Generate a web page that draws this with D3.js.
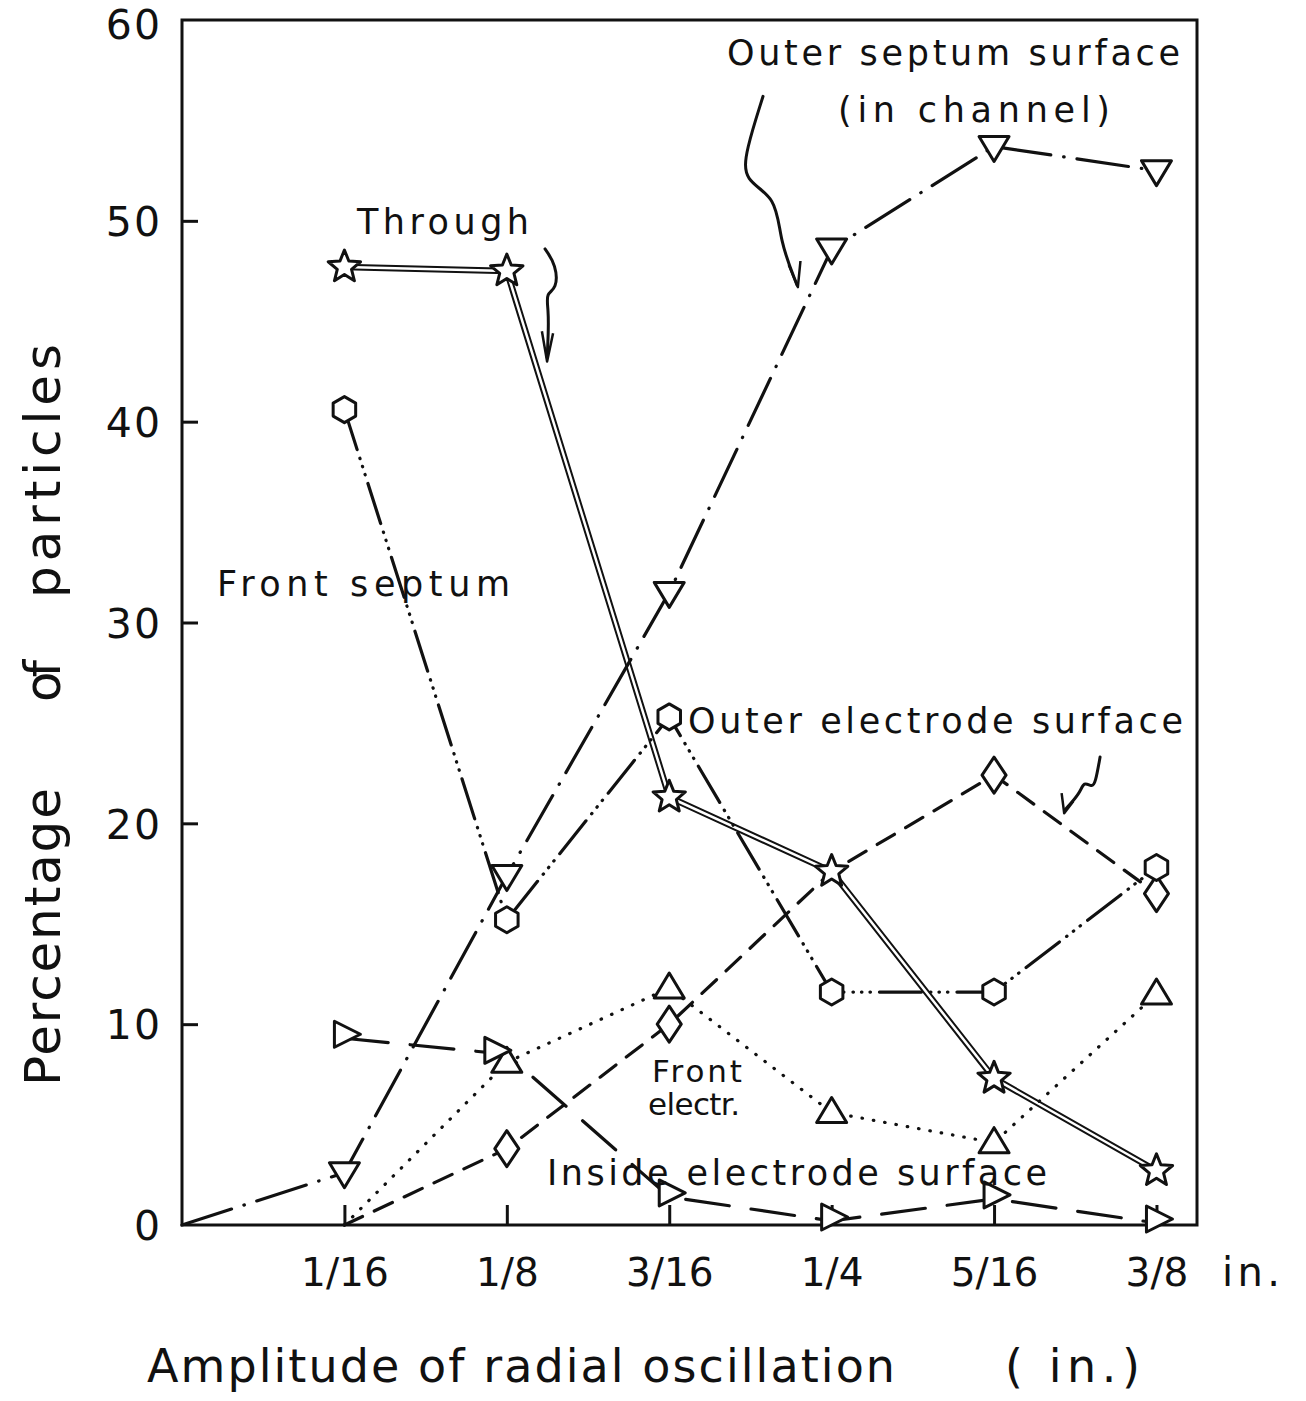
<!DOCTYPE html>
<html>
<head>
<meta charset="utf-8">
<script src="https://cdn.jsdelivr.net/npm/d3@7"></script>
<style>
  html, body { margin: 0; padding: 0; background: #fff; }
  svg text { font-family: "DejaVu Sans", sans-serif; fill: #111; }
</style>
</head>
<body>
<svg id="chart" width="1306" height="1401"></svg>
<script>
// Amplitude of radial oscillation, in inches
const amplitudes = [1/16, 1/8, 3/16, 1/4, 5/16, 3/8];
const tickLabels = ["1/16", "1/8", "3/16", "1/4", "5/16", "3/8"];
const yTicks = [0, 10, 20, 30, 40, 50, 60];

// Percentage of particles per fate
const through          = [47.7, 47.5, 21.3, 17.6, 7.3, 2.7];
const outerSeptum      = [2.6, 17.4, 31.5, 48.6, 53.7, 52.5];   // preceded by 0 at amplitude 0
const frontSeptum      = [40.6, 15.2, 25.3, 11.6, 11.6, 17.8];
const outerElectrode   = [0, 3.8, 10.0, 17.6, 22.4, 16.5];
const frontElectrode   = [0, 8.1, 11.8, 5.6, 4.1, 11.5];
const insideElectrode  = [9.3, 8.5, 1.4, 0.2, 1.3, 0.1];

const svg = d3.select("#chart");
const xMax = 0.3906;
const x = d3.scaleLinear().domain([0, xMax]).range([182, 1197]);
const y = d3.scaleLinear().domain([0, 60]).range([1225, 20]);

const ink = "#111";

// Frame
svg.append("rect")
  .attr("x", x(0)).attr("y", y(60))
  .attr("width", x(xMax) - x(0)).attr("height", y(0) - y(60))
  .attr("fill", "none").attr("stroke", ink).attr("stroke-width", 3);

// Axes with inward ticks
const xAxis = d3.axisBottom(x).tickValues(amplitudes).tickSizeInner(-20).tickSizeOuter(0)
  .tickFormat((d, i) => tickLabels[i]);
const gx = svg.append("g").attr("transform", `translate(0,${y(0)})`).call(xAxis);
gx.select(".domain").remove();
gx.selectAll("line").attr("stroke", ink).attr("stroke-width", 3);
gx.selectAll("text").attr("font-size", 39).attr("fill", ink).attr("font-family", "DejaVu Sans")
  .attr("dy", "0.35em").attr("y", 47);

const yAxis = d3.axisLeft(y).tickValues(yTicks).tickSizeInner(-16).tickSizeOuter(0)
  .tickFormat(d => d);
const gy = svg.append("g").attr("transform", `translate(${x(0)},0)`).call(yAxis);
gy.select(".domain").remove();
gy.selectAll("line").attr("stroke", ink).attr("stroke-width", 3)
  .filter(d => d === 0 || d === 60).remove();
gy.selectAll("text").attr("font-size", 41).attr("fill", ink).attr("font-family", "DejaVu Sans")
  .attr("x", -20).attr("dy", d => d === 60 ? "0.46em" : "0.36em").attr("letter-spacing", 2);

// Series lines
const line = d3.line().x(d => x(d[0])).y(d => y(d[1]));
const pts = vals => amplitudes.map((a, i) => [a, vals[i]]);

// Through: double line
const throughPts = pts(through);
svg.append("path").attr("d", line(throughPts)).attr("fill", "none")
  .attr("stroke", ink).attr("stroke-width", 6.5);
svg.append("path").attr("d", line(throughPts)).attr("fill", "none")
  .attr("stroke", "#fff").attr("stroke-width", 2.5);

function styled(data, dash) {
  svg.append("path").attr("d", line(data)).attr("fill", "none")
    .attr("stroke", ink).attr("stroke-width", 3.2)
    .attr("stroke-linecap", "round")
    .attr("stroke-dasharray", dash);
}
styled([[0, 0]].concat(pts(outerSeptum)), "52,13,0.5,13");
styled(pts(frontSeptum), "42,9,0.5,8,0.5,8,0.5,9");
styled(pts(outerElectrode), "20,13");
styled(pts(frontElectrode), "0.5,11");
styled(pts(insideElectrode), "44,22");

// Markers
function marker(type, cx, cy) {
  const g = svg.append("g").attr("transform", `translate(${cx},${cy})`);
  let p;
  switch (type) {
    case "star": {
      const s = [];
      for (let k = 0; k < 10; k++) {
        const rr = k % 2 === 0 ? 17 : 7.5;
        const a = -Math.PI / 2 + k * Math.PI / 5;
        s.push([rr * Math.cos(a), rr * Math.sin(a)]);
      }
      p = s; break;
    }
    case "hex": {
      p = d3.range(6).map(k => {
        const a = Math.PI / 6 + k * Math.PI / 3;
        return [13 * Math.cos(a), 13 * Math.sin(a)];
      }); break;
    }
    case "down": p = [[-15, -10], [15, -10], [0, 15]]; break;
    case "up":   p = [[-15, 10], [15, 10], [0, -15]]; break;
    case "right": p = [[-10, -13], [16, 0], [-10, 13]]; break;
    case "diamond": p = [[0, -18], [12, 0], [0, 18], [-12, 0]]; break;
  }
  g.append("path").attr("d", "M" + p.map(q => q.join(",")).join("L") + "Z")
    .attr("fill", "#fff").attr("stroke", ink).attr("stroke-width", 3)
    .attr("stroke-linejoin", "round");
}

amplitudes.forEach((a, i) => {
  if (i > 0 && i !== 3) marker("diamond", x(a), y(outerElectrode[i]));
  if (i > 0) marker("up", x(a), y(frontElectrode[i]));
  marker("right", x(a) - (i === 1 ? 12 : 0), y(insideElectrode[i]) - 4);
  marker("down", x(a), y(outerSeptum[i]));
  marker("hex", x(a), y(frontSeptum[i]));
  marker("star", x(a), y(through[i]));
});

// Annotation arrows (curly leaders drawn in data space)
const curve = d3.line().x(d => x(d[0])).y(d => y(d[1])).curve(d3.curveBasis);
function leader(points, head) {
  svg.append("path").attr("d", curve(points)).attr("fill", "none")
    .attr("stroke", ink).attr("stroke-width", 3).attr("stroke-linecap", "round");
  svg.append("path").attr("d", line(head)).attr("fill", "none")
    .attr("stroke", ink).attr("stroke-width", 2.5).attr("stroke-linejoin", "round");
}
// "Through"
leader([[0.1397, 48.6], [0.1440, 47.8], [0.1443, 46.6], [0.1400, 46.4], [0.1410, 45.6], [0.1410, 44.4], [0.1405, 43.2]],
       [[0.1385, 44.5], [0.1405, 43.0], [0.1428, 44.4]]);
// "Outer septum surface (in channel)"
leader([[0.2236, 56.2], [0.2170, 53.5], [0.2159, 52.0], [0.2290, 51.2], [0.2300, 49.0], [0.2367, 46.8]],
       [[0.2335, 47.8], [0.2370, 46.7], [0.2380, 48.0]]);
// "Outer electrode surface"
leader([[0.3533, 23.3], [0.3515, 22.0], [0.3502, 21.8], [0.3470, 22.1], [0.3456, 21.5], [0.3400, 20.7]],
       [[0.3385, 21.5], [0.3395, 20.5], [0.3430, 21.1]]);

// Labels
function label(txt, x0, y0, len, size) {
  svg.append("text").attr("x", x0).attr("y", y0).attr("font-size", size)
    .attr("textLength", len).attr("lengthAdjust", "spacing").text(txt);
}
label("Outer septum surface", 727, 65, 453, 35);
label("(in channel)", 838, 122, 272, 35);
label("Through", 357, 234, 172, 35);
label("Front septum", 217, 596, 293, 35);
label("Outer electrode surface", 688, 733, 495, 35);
label("Front", 652, 1082, 90, 31);
label("electr.", 648, 1115, 92, 31);
label("Inside electrode surface", 547, 1185, 500, 35);
label("in.", 1222, 1286, 58, 40);

// Axis titles
function vlabel(txt, y0, len) {
  svg.append("text").attr("transform", `translate(60,${y0}) rotate(-90)`)
    .attr("font-size", 50).attr("textLength", len).attr("lengthAdjust", "spacing").text(txt);
}
vlabel("Percentage", 1086, 298);
vlabel("of", 702, 42);
vlabel("particles", 598, 254);
label("Amplitude of radial oscillation", 147, 1382, 748, 46);
label("( in.)", 1005, 1382, 135, 46);
</script>
</body>
</html>
